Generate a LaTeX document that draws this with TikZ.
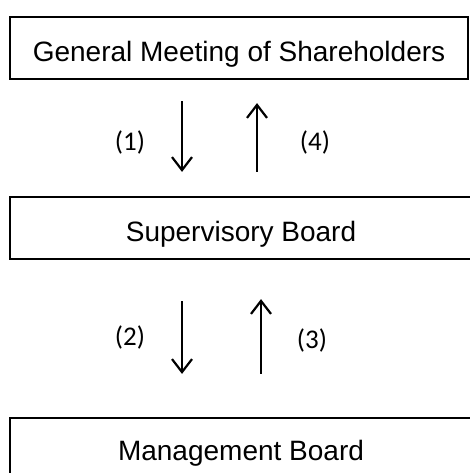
\documentclass[tikz,border=0pt]{standalone}
\usepackage{fontspec}
\setmainfont{Liberation Sans}
\newfontfamily\labelfont{Carlito}
\usetikzlibrary{arrows.meta}
\begin{document}
\begin{tikzpicture}[x=1pt,y=-1pt,
  boxstyle/.style={draw=black, line width=2.2pt, rectangle, inner sep=0pt, text height=27pt, text depth=0pt, font=\fontsize{28}{33}\selectfont},
  arr/.style={line width=2.2pt, -{Straight Barb[length=13pt,width=20pt,line width=2.2pt]}},
  lbl/.style={font=\labelfont\fontsize{27}{32}\selectfont, inner sep=0pt}]
\useasboundingbox (0,0) rectangle (470,473);
\clip (0,0) rectangle (470,473);
\node[boxstyle, minimum width=458pt, minimum height=62pt] (gm) at (239,48) {General Meeting of Shareholders};
\node[boxstyle, minimum width=462pt, minimum height=62pt] (sb) at (241,228) {Supervisory Board};
\node[boxstyle, minimum width=462pt, minimum height=58pt] (mb) at (241,447) {Management Board};
\coordinate (c1) at (182,0);
\coordinate (c4) at (257,0);
\coordinate (c2) at (182,0);
\coordinate (c3) at (261,0);
\draw[arr, shorten <=21pt, shorten >=24pt] (gm.south -| c1) -- (sb.north -| c1);
\draw[arr, shorten <=24pt, shorten >=23pt] (sb.north -| c4) -- (gm.south -| c4);
\draw[arr, shorten <=41pt, shorten >=43pt] (sb.south -| c2) -- (mb.north -| c2);
\draw[arr, shorten <=43pt, shorten >=39pt] (mb.north -| c3) -- (sb.south -| c3);
\node[lbl] (l1) at (130,142) {(1)};
\node[lbl] (l4) at (315,142) {(4)};
\node[lbl] (l2) at (130,337) {(2)};
\node[lbl] (l3) at (312,340) {(3)};
\end{tikzpicture}
\end{document}
